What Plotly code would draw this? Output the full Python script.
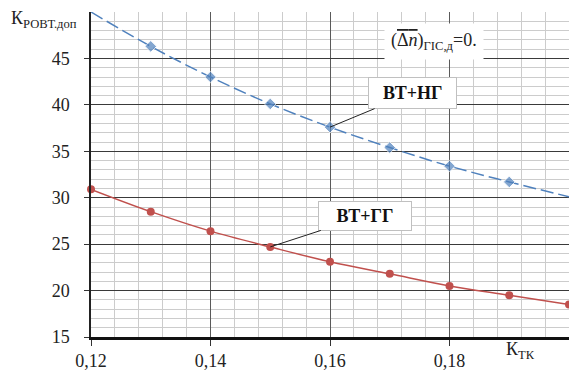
import plotly.graph_objects as go

# data
ktk_ng = [0.12, 0.13, 0.14, 0.15, 0.16, 0.17, 0.18, 0.19, 0.20]
k_ng = [50.0, 46.3, 43.0, 40.1, 37.6, 35.4, 33.4, 31.7, 30.1]
ng_marker_sizes = [0, 9, 9, 9, 9, 9, 9, 9, 0]

ktk_gg = [0.12, 0.13, 0.14, 0.15, 0.16, 0.17, 0.18, 0.19, 0.20]
k_gg = [30.9, 28.5, 26.4, 24.7, 23.1, 21.8, 20.5, 19.5, 18.5]

x_tickvals = [0.12, 0.14, 0.16, 0.18]
x_ticktext = ["0,12", "0,14", "0,16", "0,18"]
y_tickvals = [15, 20, 25, 30, 35, 40, 45]

BLUE = "#4F81BD"
RED = "#C0504D"
FONT = "Liberation Serif"
NB = "\u00a0"

fig = go.Figure()
fig.add_trace(go.Scatter(
    x=ktk_ng, y=k_ng, mode="lines+markers", line_shape="spline",
    line=dict(color=BLUE, width=1.5, dash="13px,5px"),
    marker=dict(symbol="diamond", size=ng_marker_sizes, color=BLUE),
    cliponaxis=True, showlegend=False))
fig.add_trace(go.Scatter(
    x=ktk_gg, y=k_gg, mode="lines+markers", line_shape="spline",
    line=dict(color=RED, width=1.5),
    marker=dict(symbol="circle", size=8, color=RED),
    cliponaxis=False, showlegend=False))

fig.update_layout(
    width=569, height=371,
    margin=dict(l=91, r=0, t=12, b=30),
    plot_bgcolor="white", paper_bgcolor="white",
    font=dict(family=FONT, size=17, color="#222"),
    xaxis=dict(range=[0.12, 0.2], tickvals=x_tickvals, ticktext=x_ticktext,
               showgrid=True, gridcolor="#5a5a5a", gridwidth=1,
               minor=dict(dtick=0.004, tick0=0.12, showgrid=True, gridcolor="#cccccc", gridwidth=1.3),
               showline=True, linecolor="#111", linewidth=2.5,
               ticks="outside", ticklen=6, tickcolor="#333", zeroline=False,
               tickfont=dict(family=FONT, size=18)),
    yaxis=dict(range=[15, 50], tickvals=y_tickvals,
               showgrid=True, gridcolor="#3a3a3a", gridwidth=1,
               minor=dict(dtick=1, tick0=15, showgrid=True, gridcolor="#cccccc", gridwidth=1.3),
               showline=True, linecolor="#222", linewidth=1.5,
               ticks="outside", ticklen=5, tickcolor="#333", zeroline=False,
               ticklabelstandoff=11,
               tickfont=dict(family=FONT, size=18)),
)

# axis titles
fig.add_annotation(xref="paper", yref="paper", x=-0.172, y=0.976, xanchor="left", yanchor="middle",
                   text="К<sub>РОВТ.доп</sub>", showarrow=False, font=dict(family=FONT, size=18))
fig.add_annotation(xref="paper", yref="paper", x=0.898, y=-0.043, xanchor="center", yanchor="middle",
                   text="К<sub>ТК</sub>", showarrow=False, font=dict(family=FONT, size=18))

# condition label
fig.add_annotation(xref="paper", yref="paper", x=(434 - 91) / 478, y=(341 - 42) / 329,
                   xanchor="center", yanchor="middle",
                   text="(<span style='text-decoration:overline'>Δ<i>n</i></span>)<sub>ГІС,д</sub>=0.",
                   showarrow=False, bgcolor="white", borderpad=6, font=dict(family=FONT, size=18))

# series labels with leader lines
fig.add_annotation(x=0.16, y=k_ng[4], xref="x", yref="y", text=NB * 2 + "<b>ВТ+НГ</b>" + NB * 2,
                   showarrow=True, arrowhead=0, arrowwidth=1, arrowcolor="#222",
                   ax=82, ay=-34,
                   bgcolor="white", bordercolor="#c0c0c0", borderwidth=1, borderpad=5,
                   font=dict(family=FONT, size=18, color="#111"))
fig.add_annotation(x=0.15, y=k_gg[3], xref="x", yref="y", text=NB * 3 + "<b>ВТ+ГГ</b>" + NB * 3,
                   showarrow=True, arrowhead=0, arrowwidth=1, arrowcolor="#222",
                   ax=95, ay=-31,
                   bgcolor="white", bordercolor="#c0c0c0", borderwidth=1, borderpad=4,
                   font=dict(family=FONT, size=18, color="#111"))

fig.write_html("out.html")
